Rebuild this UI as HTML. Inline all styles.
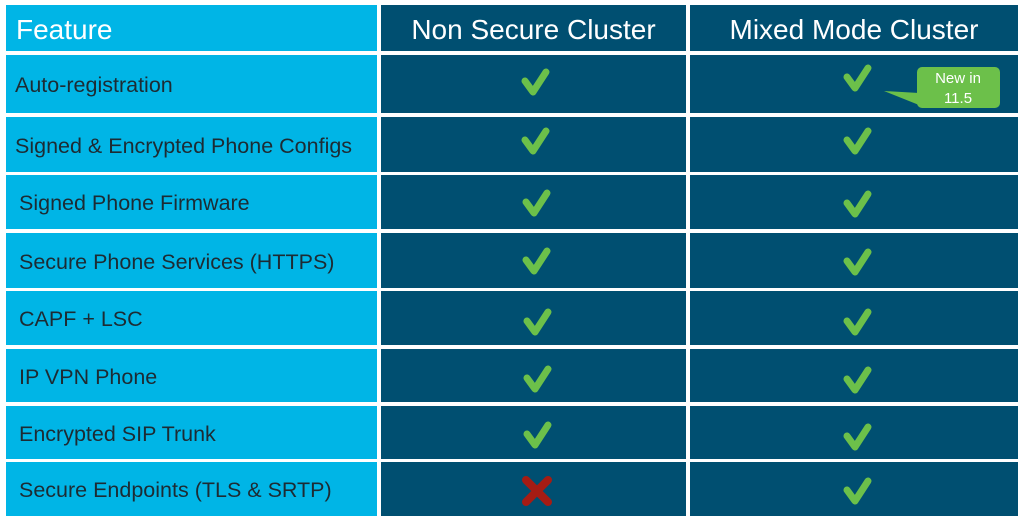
<!DOCTYPE html>
<html><head><style>
body{margin:0;width:1023px;height:520px;background:#fff;position:relative;overflow:hidden;font-family:"Liberation Sans",sans-serif}
.c{position:absolute;box-sizing:border-box}
.a{background:#00b5e6;color:#1d2b33;font-size:21.5px;display:flex;align-items:center;padding-top:3px}
.d{background:#004f71}
.h{color:#fff;font-size:28px;display:flex;align-items:center;justify-content:center;padding-top:4px}
svg{position:absolute;left:0;top:0}
</style></head><body>
<div class="c a h" style="left:6px;top:5px;width:371px;height:46px;justify-content:flex-start;padding-left:10px;color:#fff;font-size:28px">Feature</div>
<div class="c d h" style="left:381px;top:5px;width:305px;height:46px">Non Secure Cluster</div>
<div class="c d h" style="left:690px;top:5px;width:328px;height:46px">Mixed Mode Cluster</div>

<div class="c a" style="left:6px;top:55px;width:371px;height:58px;padding-left:9px">Auto-registration</div>
<div class="c a" style="left:6px;top:117px;width:371px;height:55px;padding-left:9px">Signed &amp; Encrypted Phone Configs</div>
<div class="c a" style="left:6px;top:175px;width:371px;height:54px;padding-left:13px">Signed Phone Firmware</div>
<div class="c a" style="left:6px;top:233px;width:371px;height:55px;padding-left:13px">Secure Phone Services (HTTPS)</div>
<div class="c a" style="left:6px;top:291px;width:371px;height:54px;padding-left:13px">CAPF + LSC</div>
<div class="c a" style="left:6px;top:349px;width:371px;height:53px;padding-left:13px">IP VPN Phone</div>
<div class="c a" style="left:6px;top:406px;width:371px;height:53px;padding-left:13px">Encrypted SIP Trunk</div>
<div class="c a" style="left:6px;top:462px;width:371px;height:54px;padding-left:13px">Secure Endpoints (TLS &amp; SRTP)</div>

<div class="c d" style="left:381px;top:55px;width:305px;height:58px"></div>
<div class="c d" style="left:381px;top:117px;width:305px;height:55px"></div>
<div class="c d" style="left:381px;top:175px;width:305px;height:54px"></div>
<div class="c d" style="left:381px;top:233px;width:305px;height:55px"></div>
<div class="c d" style="left:381px;top:291px;width:305px;height:54px"></div>
<div class="c d" style="left:381px;top:349px;width:305px;height:53px"></div>
<div class="c d" style="left:381px;top:406px;width:305px;height:53px"></div>
<div class="c d" style="left:381px;top:462px;width:305px;height:54px"></div>

<div class="c d" style="left:690px;top:55px;width:328px;height:58px"></div>
<div class="c d" style="left:690px;top:117px;width:328px;height:55px"></div>
<div class="c d" style="left:690px;top:175px;width:328px;height:54px"></div>
<div class="c d" style="left:690px;top:233px;width:328px;height:55px"></div>
<div class="c d" style="left:690px;top:291px;width:328px;height:54px"></div>
<div class="c d" style="left:690px;top:349px;width:328px;height:53px"></div>
<div class="c d" style="left:690px;top:406px;width:328px;height:53px"></div>
<div class="c d" style="left:690px;top:462px;width:328px;height:54px"></div>

<svg width="1023" height="520">
<defs><path id="ck" d="M-10,-1 L-2,10 L11,-10" fill="none" stroke="#6cc04a" stroke-width="7" stroke-linecap="round" stroke-linejoin="round"/></defs>
<use href="#ck" x="535" y="82"/><use href="#ck" x="857" y="78"/>
<use href="#ck" x="535" y="141"/><use href="#ck" x="857" y="141"/>
<use href="#ck" x="536" y="203"/><use href="#ck" x="857" y="204"/>
<use href="#ck" x="536" y="261"/><use href="#ck" x="857" y="262"/>
<use href="#ck" x="537" y="322"/><use href="#ck" x="857" y="322"/>
<use href="#ck" x="537" y="379"/><use href="#ck" x="857" y="380"/>
<use href="#ck" x="537" y="435"/><use href="#ck" x="857" y="437"/>
<use href="#ck" x="857" y="491"/>
<path d="M526,480 L548,502 M548,480 L526,502" stroke="#a51c14" stroke-width="8" stroke-linecap="round"/>
<rect x="917" y="67" width="83" height="41" rx="5" fill="#6cc04a"/>
<path d="M919,93 L884,91 L919,105 Z" fill="#6cc04a"/>
<text x="958" y="83" fill="#fff" font-size="15" text-anchor="middle" font-family="Liberation Sans, sans-serif">New in</text>
<text x="958" y="103" fill="#fff" font-size="15" text-anchor="middle" font-family="Liberation Sans, sans-serif">11.5</text>
</svg>
</body></html>
